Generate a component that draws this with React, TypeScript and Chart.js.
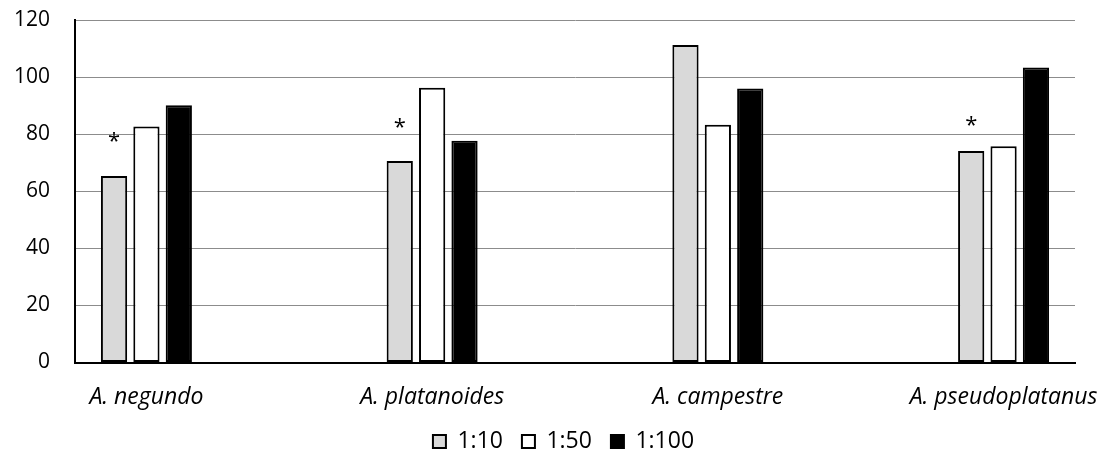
import React, { useEffect, useRef } from "react";
import { Chart, registerables } from "chart.js";

Chart.register(...registerables);

const categories = ["A. negundo", "A. platanoides", "A. campestre", "A. pseudoplatanus"];
const seriesNames = ["1:10", "1:50", "1:100"];
const values110 = [65.3, 70.6, 111.2, 74.1];
const values150 = [82.7, 96.3, 83.3, 75.8];
const values1100 = [90.1, 77.7, 96.0, 103.4];
// position (in axis units) of the significance asterisk above the 1:10 bar
const asteriskLevels = [79.6, 84.3, null, 85.1];
const yTicks = [0, 20, 40, 60, 80, 100, 120];

const FONT = "'Open Sans', sans-serif";

// categories are separated by empty slots, as in the original
function spread<T>(arr: T[], empty: T): T[] {
  const out: T[] = [];
  arr.forEach((v, i) => {
    if (i > 0) out.push(empty);
    out.push(v);
  });
  return out;
}

const asteriskPlugin = {
  id: "asterisks",
  afterDatasetsDraw(chart: any) {
    const meta = chart.getDatasetMeta(0);
    const y = chart.scales.y;
    const ctx = chart.ctx;
    const levels = spread(asteriskLevels as (number | null)[], null);
    ctx.save();
    ctx.fillStyle = "#000";
    ctx.font = `22px ${FONT}`;
    ctx.textAlign = "center";
    ctx.textBaseline = "middle";
    levels.forEach((lv, i) => {
      if (lv == null) return;
      const el = meta.data[i];
      if (!el) return;
      ctx.fillText("*", el.x, y.getPixelForValue(lv) + 6);
    });
    ctx.restore();
  },
};

// the legend in the original sits slightly left of the plot centre
const legendShiftPlugin = {
  id: "legendShift",
  afterLayout(chart: any) {
    const lg = chart.legend;
    if (!lg) return;
    const w = lg.right - lg.left;
    const target = 563.5;
    const cur = (lg.left + lg.right) / 2;
    lg.left += target - cur;
    lg.right = lg.left + w;
  },
};

export default function App() {
  const ref = useRef<HTMLCanvasElement>(null);
  useEffect(() => {
    document.body.style.margin = "0";
    const labels = spread(categories, "");
    const chart = new Chart(ref.current!, {
      type: "bar",
      data: {
        labels,
        datasets: [
          {
            label: seriesNames[0],
            data: spread(values110 as (number | null)[], null),
            backgroundColor: "#d9d9d9",
            borderColor: "#000",
            borderWidth: 2,
            borderSkipped: false,
          },
          {
            label: seriesNames[1],
            data: spread(values150 as (number | null)[], null),
            backgroundColor: "#ffffff",
            borderColor: "#000",
            borderWidth: 2,
            borderSkipped: false,
          },
          {
            label: seriesNames[2],
            data: spread(values1100 as (number | null)[], null),
            backgroundColor: "#000000",
            borderColor: "#000",
            borderWidth: 2,
            borderSkipped: false,
          },
        ],
      },
      options: {
        responsive: false,
        animation: false,
        devicePixelRatio: 1,
        categoryPercentage: 0.68,
        barPercentage: 0.81,
        layout: { padding: { top: 20, right: 30, left: 0, bottom: 0 } },
        plugins: {
          tooltip: { enabled: false },
          legend: {
            position: "bottom",
            labels: {
              color: "#000",
              font: { family: FONT, size: 23 },
              boxWidth: 13,
              boxHeight: 13,
              padding: 19,
            },
          },
        },
        scales: {
          x: {
            grid: { display: false, drawTicks: false },
            border: { display: true, color: "#000", width: 2 },
            ticks: {
              color: "#000",
              autoSkip: false,
              maxRotation: 0,
              padding: 21,
              font: { family: FONT, size: 23, style: "italic" },
            },
            afterFit(scale: any) {
              scale.height = 48.5;
              scale.paddingLeft = 0;
              scale.paddingRight = 0;
            },
          },
          y: {
            min: 0,
            max: 120,
            afterBuildTicks(scale: any) {
              scale.ticks = yTicks.map((v) => ({ value: v }));
            },
            grid: { color: "#8c8c8c", lineWidth: 1, drawTicks: false },
            border: { display: true, color: "#000", width: 2 },
            ticks: {
              color: "#000",
              padding: 25,
              font: { family: FONT, size: 21 },
            },
            afterFit(scale: any) {
              scale.width = 75;
              scale.paddingTop = 0;
              scale.paddingBottom = 0;
            },
          },
        },
      },
      plugins: [asteriskPlugin, legendShiftPlugin],
    });
    return () => chart.destroy();
  }, []);
  return <canvas ref={ref} width={1105} height={463} style={{ display: "block" }} />;
}
